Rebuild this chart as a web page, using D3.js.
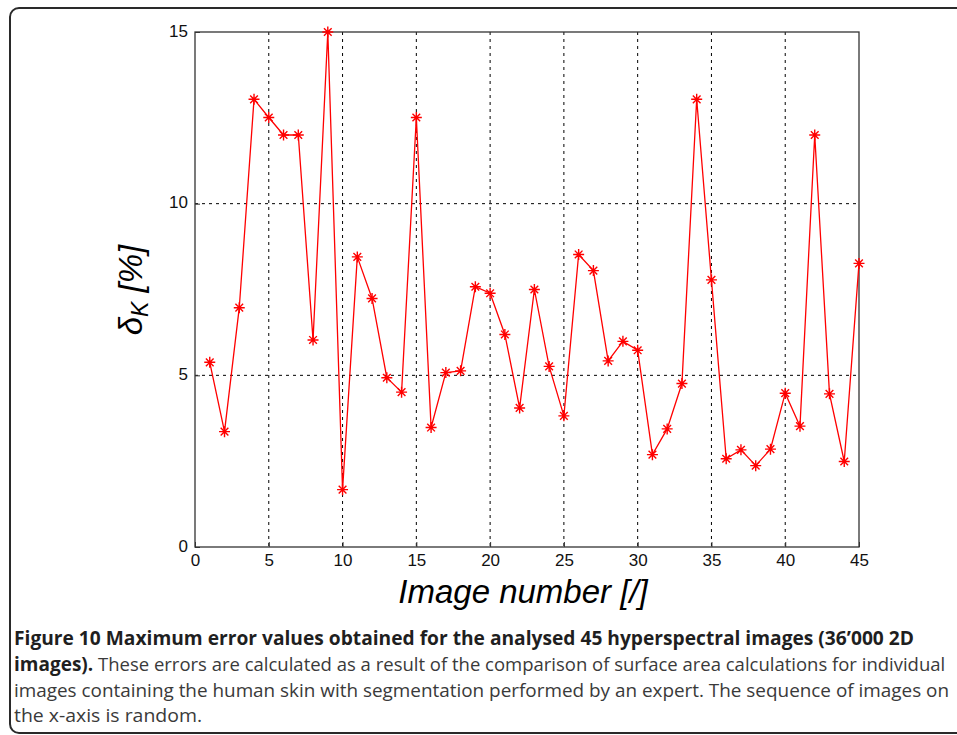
<!DOCTYPE html>
<meta charset="utf-8">
<head>
	<script src="https://cdn.jsdelivr.net/npm/d3@7"></script>
	<style>
		body { margin: 0; background: #fff; }
		.axis-title { font-family: "Liberation Sans", Arial, sans-serif; font-style: italic; fill: #000; }
		.caption { font-family: "Open Sans", sans-serif; font-size: 18px; fill: #3a3a3a; }
		.caption .b { font-weight: bold; fill: #1f1f1f; font-size: 19px; }
	</style>
</head>
<body>
	<svg id="svg"></svg>
</body>
<script>
	// image number 1..45 and max error δK [%]
	var imageNo = d3.range(1, 46);
	var errorPct = [5.38, 3.36, 6.97, 13.04, 12.51, 12.0, 12.0, 6.03, 15.0, 1.67,
		8.45, 7.24, 4.93, 4.51, 12.51, 3.48, 5.08, 5.13, 7.58, 7.39,
		6.19, 4.05, 7.50, 5.26, 3.82, 8.52, 8.05, 5.42, 5.99, 5.73,
		2.69, 3.44, 4.76, 13.04, 7.78, 2.57, 2.83, 2.37, 2.85, 4.48,
		3.52, 12.0, 4.46, 2.49, 8.26];
	var xTicks = [0, 5, 10, 15, 20, 25, 30, 35, 40, 45];
	var yTicks = [0, 5, 10, 15];

	var width = 957, height = 735;
	var plot = { left: 195, right: 859, top: 32, bottom: 547 };

	var svg = d3.select("#svg")
		.attr("width", width)
		.attr("height", height);

	// figure frame (rounded, runs off the right edge)
	svg.append("rect")
		.attr("x", 10).attr("y", 8)
		.attr("width", 980).attr("height", 725)
		.attr("rx", 9)
		.attr("fill", "none")
		.attr("stroke", "#2a2a2a")
		.attr("stroke-width", 2);

	var x = d3.scaleLinear().domain([0, 45]).range([plot.left, plot.right]);
	var y = d3.scaleLinear().domain([0, 15]).range([plot.bottom, plot.top]);

	// grid
	svg.append("g").selectAll("line")
		.data(xTicks.slice(1, -1))
		.enter().append("line")
		.attr("x1", d => x(d)).attr("x2", d => x(d))
		.attr("y1", plot.top).attr("y2", plot.bottom)
		.attr("stroke", "#000").attr("stroke-dasharray", "3,4");
	svg.append("g").selectAll("line")
		.data(yTicks.slice(1, -1))
		.enter().append("line")
		.attr("x1", plot.left).attr("x2", plot.right)
		.attr("y1", d => y(d)).attr("y2", d => y(d))
		.attr("stroke", "#000").attr("stroke-dasharray", "3,4");

	// box
	svg.append("rect")
		.attr("x", plot.left).attr("y", plot.top)
		.attr("width", plot.right - plot.left).attr("height", plot.bottom - plot.top)
		.attr("fill", "none").attr("stroke", "#333").attr("stroke-width", 1.3);

	// axes (ticks inward like matlab)
	var xAxis = svg.append("g")
		.attr("transform", "translate(0," + plot.bottom + ")")
		.call(d3.axisBottom(x).tickValues(xTicks).tickSize(-5).tickPadding(7));
	var yAxis = svg.append("g")
		.attr("transform", "translate(" + plot.left + ",0)")
		.call(d3.axisLeft(y).tickValues(yTicks).tickSize(-5).tickPadding(7));
	[xAxis, yAxis].forEach(function (a) {
		a.attr("font-size", 17).attr("font-family", "'Liberation Sans', Arial, sans-serif");
		a.select(".domain").remove();
		a.selectAll(".tick line").attr("stroke", "#333");
		a.selectAll(".tick text").attr("fill", "#111");
	});
	yAxis.selectAll(".tick text").attr("dy", "0.25em");

	// data line
	svg.append("path")
		.datum(errorPct)
		.attr("fill", "none")
		.attr("stroke", "#ff0000")
		.attr("stroke-width", 1.3)
		.attr("d", d3.line().x((d, i) => x(imageNo[i])).y(d => y(d)));

	// asterisk markers
	var s = 5.5;
	var star = "M" + (-s) + ",0H" + s + "M0," + (-s) + "V" + s +
		"M" + (-s * 0.7) + "," + (-s * 0.7) + "L" + (s * 0.7) + "," + (s * 0.7) +
		"M" + (-s * 0.7) + "," + (s * 0.7) + "L" + (s * 0.7) + "," + (-s * 0.7);
	svg.append("g").selectAll("path")
		.data(errorPct)
		.enter().append("path")
		.attr("transform", (d, i) => "translate(" + x(imageNo[i]) + "," + y(d) + ")")
		.attr("d", star)
		.attr("stroke", "#ff0000")
		.attr("stroke-width", 1.4)
		.attr("fill", "none");

	// axis titles
	svg.append("text")
		.attr("class", "axis-title")
		.attr("x", 523).attr("y", 603)
		.attr("text-anchor", "middle")
		.attr("font-size", "33px")
		.text("Image number [/]");

	var yl = svg.append("text")
		.attr("class", "axis-title")
		.attr("transform", "translate(142,290) rotate(-90)")
		.attr("text-anchor", "middle")
		.attr("font-size", "33px");
	yl.append("tspan").text("δ");
	yl.append("tspan").attr("font-size", "23px").attr("dy", "6").text("K");
	yl.append("tspan").attr("dy", "-6").text(" [%]");

	// caption
	var cap = svg.append("g").attr("class", "caption");
	cap.append("text").attr("x", 14).attr("y", 645)
		.attr("textLength", 900).attr("lengthAdjust", "spacingAndGlyphs")
		.append("tspan").attr("class", "b")
		.text("Figure 10 Maximum error values obtained for the analysed 45 hyperspectral images (36\u2019000 2D");
	var l2 = cap.append("text").attr("x", 14).attr("y", 671);
	l2.append("tspan").attr("class", "b").text("images).");
	l2.append("tspan")
		.attr("textLength", 852).attr("lengthAdjust", "spacingAndGlyphs")
		.text(" These errors are calculated as a result of the comparison of surface area calculations for individual");
	cap.append("text").attr("x", 14).attr("y", 697)
		.attr("textLength", 935).attr("lengthAdjust", "spacingAndGlyphs")
		.text("images containing the human skin with segmentation performed by an expert. The sequence of images on");
	cap.append("text").attr("x", 14).attr("y", 722)
		.attr("textLength", 188).attr("lengthAdjust", "spacingAndGlyphs")
		.text("the x-axis is random.");
</script>
